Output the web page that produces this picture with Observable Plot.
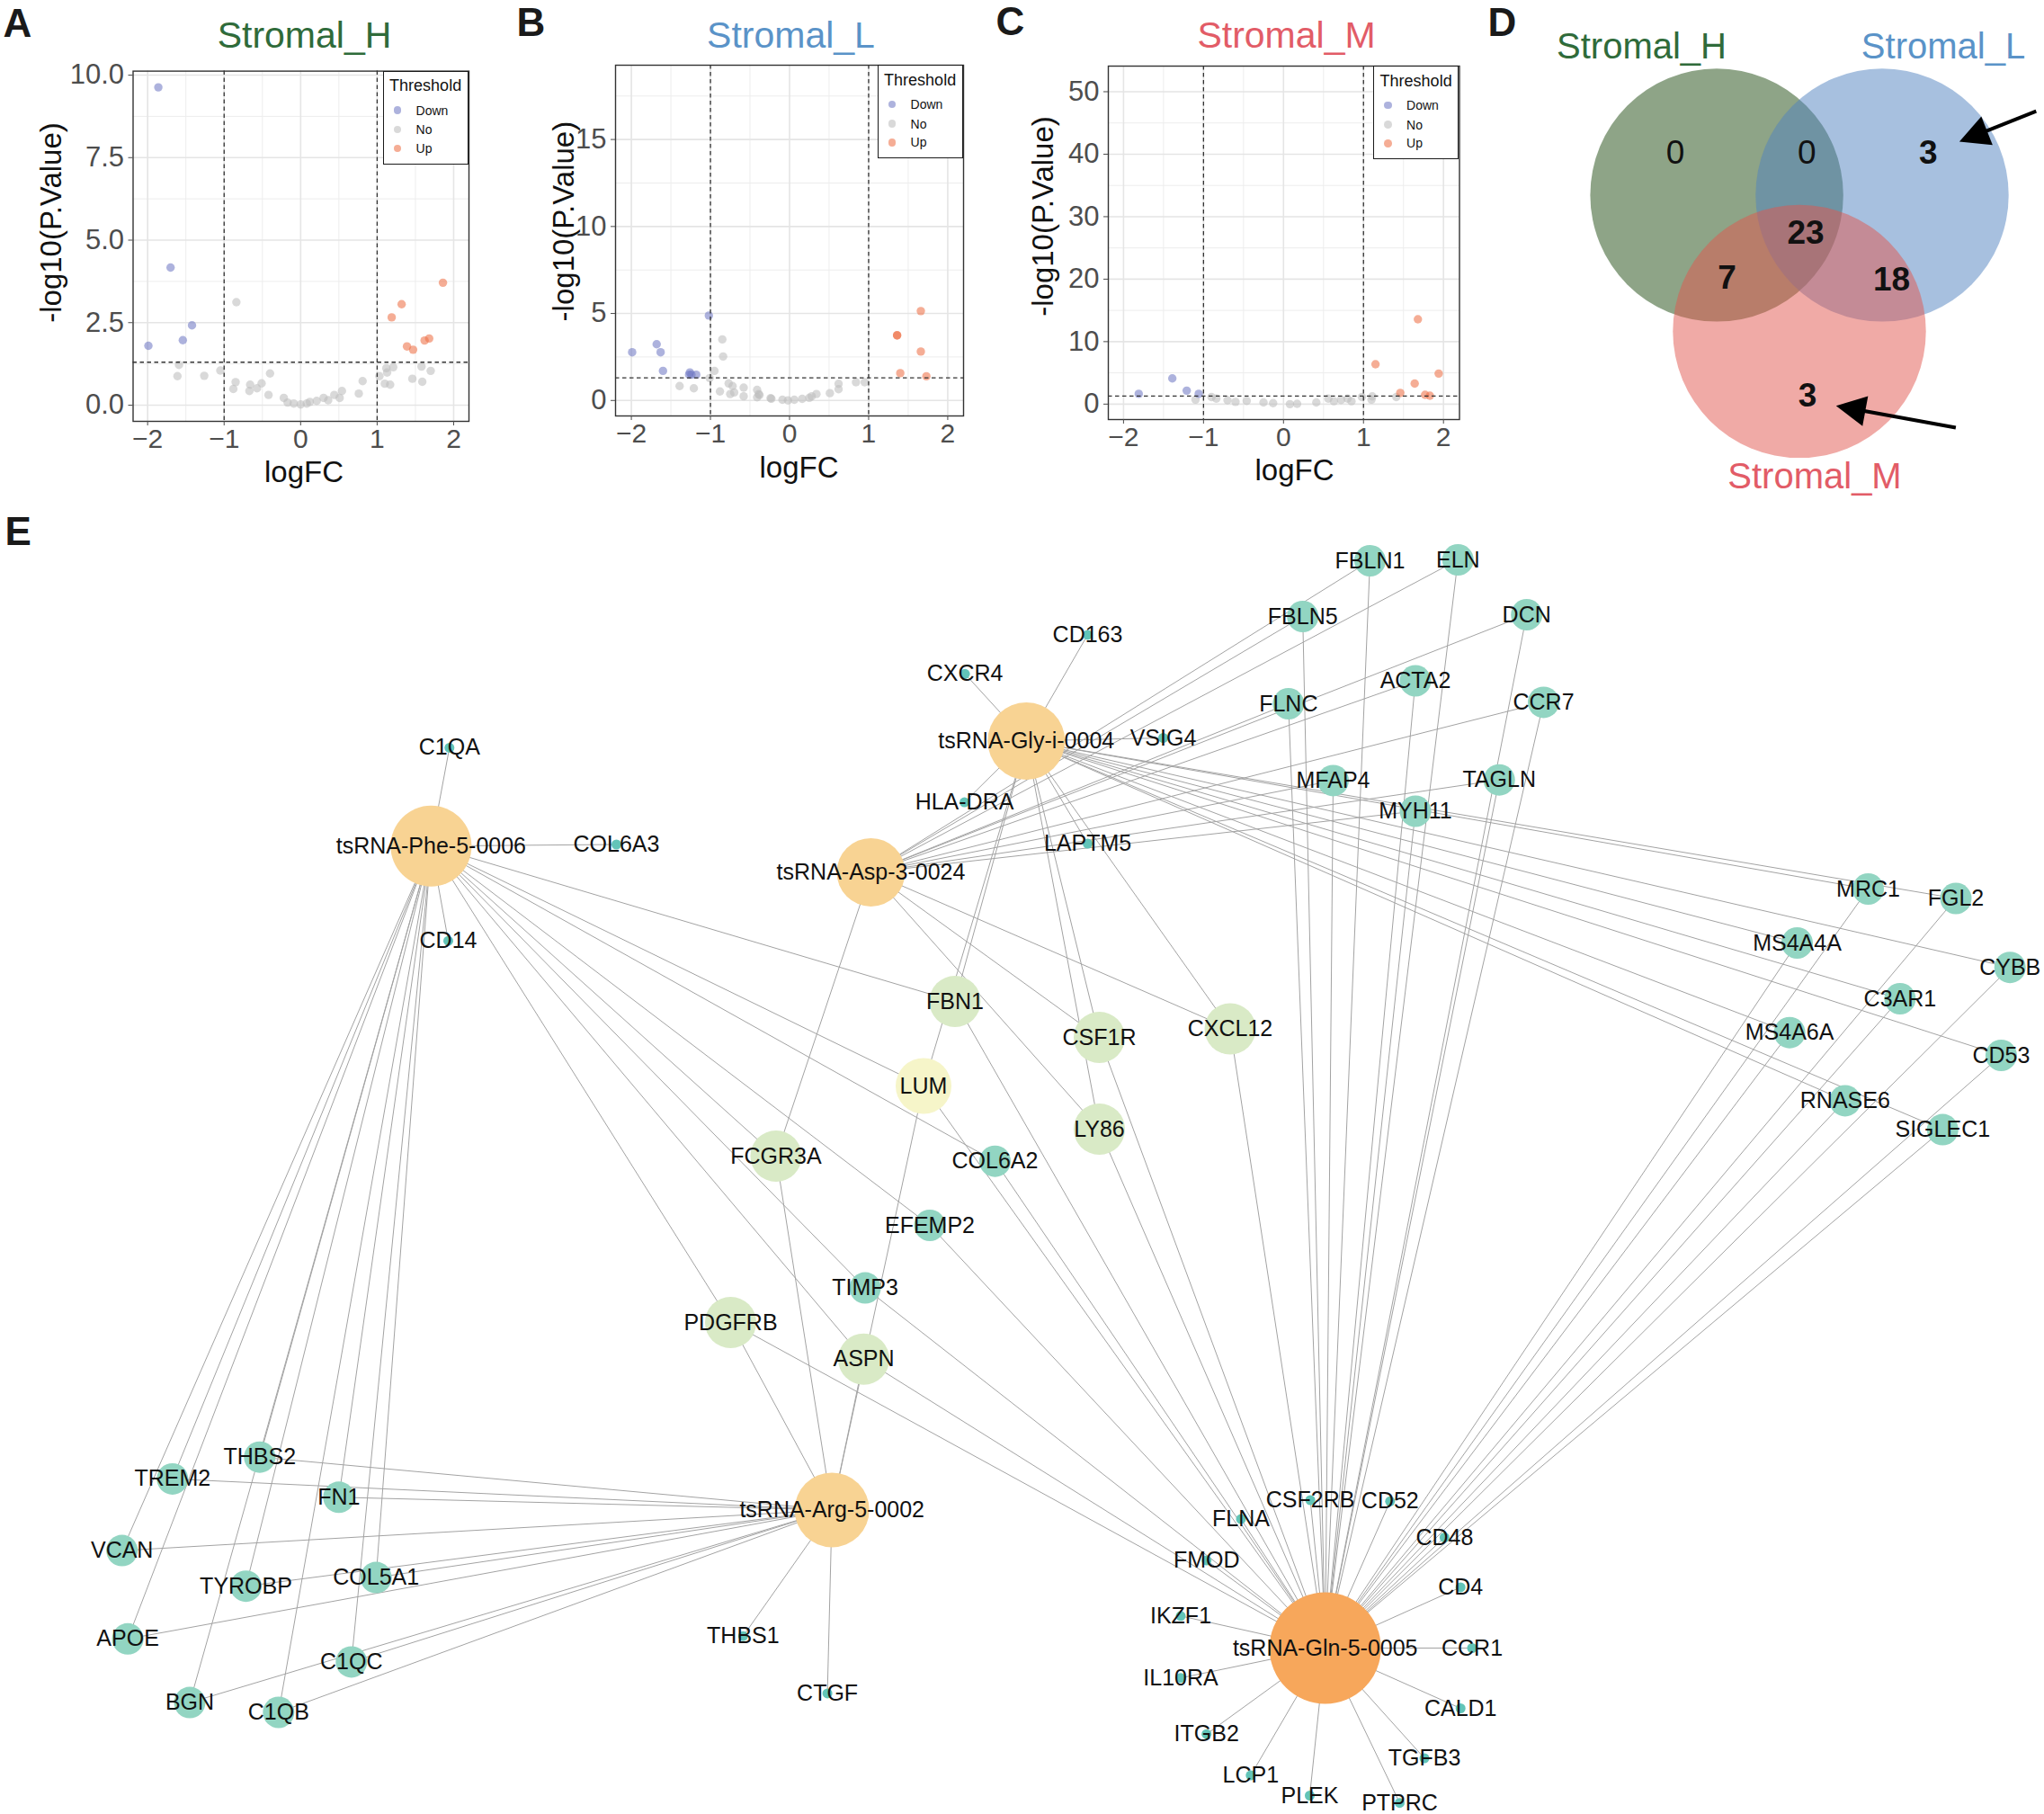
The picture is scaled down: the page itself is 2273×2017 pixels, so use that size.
<!DOCTYPE html>
<html>
<head>
<meta charset="utf-8">
<script src="https://cdn.jsdelivr.net/npm/d3@7"></script>
<script src="https://cdn.jsdelivr.net/npm/@observablehq/plot@0.6"></script>
<style>
html,body{margin:0;padding:0;background:#fff;}
#fig{position:relative;width:2273px;height:2017px;background:#fff;overflow:hidden;font-family:"Liberation Sans",Arial,Helvetica,sans-serif;}
.legend{position:absolute;border:1.5px solid #1a1a1a;background:#fff;box-sizing:border-box;color:#111;font-family:"Liberation Sans",Arial,sans-serif;}
.legend div{position:absolute;white-space:nowrap;}
.legend span{position:absolute;border-radius:50%;}
</style>
</head>
<body>
<div id="fig"></div>
<script>
// ---------------- DATA ----------------
// Panel A: Stromal_H  [logFC, -log10(P.Value)]
const H_down = [[-1.86,9.63],[-1.70,4.17],[-1.42,2.42],[-1.54,1.97],[-1.99,1.80]];
const H_up = [[1.86,3.71],[1.32,3.06],[1.19,2.66],[1.68,2.02],[1.62,1.96],[1.39,1.78],[1.47,1.68]];
const H_no = [[-0.84,3.12],[-1.59,1.22],[-1.61,0.88],[-1.26,0.89],[-1.05,1.05],[-0.85,0.70],[-0.88,0.49],[-0.66,0.62],[-0.67,0.43],[-0.57,0.51],[-0.51,0.66],[-0.40,0.96],[-0.42,0.31],[-0.22,0.22],[-0.17,0.08],[-0.09,0.05],[0.0,0.02],[0.08,0.05],[0.12,0.10],[0.21,0.13],[0.30,0.22],[0.36,0.15],[0.44,0.31],[0.51,0.22],[0.54,0.43],[0.76,0.35],[0.81,0.73],[1.03,0.88],[1.10,0.65],[1.17,0.62],[1.12,1.12],[1.21,1.15],[1.13,0.99],[1.46,0.80],[1.58,1.17],[1.59,0.71],[1.70,1.04]];
// Panel B: Stromal_L
const L_down = [[-1.99,2.77],[-1.68,3.23],[-1.63,2.77],[-1.60,1.70],[-1.26,1.61],[-1.24,1.48],[-1.18,1.48],[-1.27,1.48],[-1.02,4.88]];
const L_up = [[1.66,5.14],[1.36,3.75],[1.36,3.74],[1.66,2.81],[1.40,1.57],[1.73,1.39]];
const L_no = [[-0.85,3.51],[-0.84,2.53],[-0.95,1.70],[-1.01,1.29],[-1.39,0.83],[-1.21,0.70],[-0.88,0.52],[-0.77,0.98],[-0.72,0.83],[-0.75,0.37],[-0.70,0.46],[-0.58,0.74],[-0.58,0.24],[-0.41,0.61],[-0.39,0.37],[-0.41,0.18],[-0.38,0.31],[-0.24,0.13],[-0.23,0.10],[-0.09,0.04],[-0.02,0.0],[0.06,0.04],[0.16,0.09],[0.25,0.15],[0.28,0.24],[0.34,0.37],[0.51,0.42],[0.62,0.96],[0.62,0.65],[0.84,1.05],[0.95,1.05]];
// Panel C: Stromal_M
const M_down = [[-1.81,1.65],[-1.39,4.12],[-1.21,2.16],[-1.06,1.65]];
const M_up = [[1.68,13.58],[1.15,6.38],[1.94,4.89],[1.64,3.29],[1.46,1.80],[1.77,1.49],[1.83,1.34]];
const M_no = [[-1.10,0.72],[-0.90,1.13],[-0.84,0.87],[-0.70,0.62],[-0.60,0.36],[-0.46,0.51],[-0.25,0.26],[-0.13,0.15],[0.08,0.0],[0.17,0.05],[0.41,0.26],[0.56,0.87],[0.63,0.46],[0.72,0.67],[0.80,0.87],[0.85,0.46],[0.98,1.13],[1.11,1.23],[1.10,0.72],[1.41,1.13]];
const thresholdLevels = ["Down","No","Up"];
const xTicks = [-2,-1,0,1,2];

// Panel D: Venn (set name, centre, radius in layout units) and region counts
const vennSets = ["Stromal_H","Stromal_L","Stromal_M"];
const vennCx = [1908.6, 2092.5, 2000.5];
const vennCy = [216.4, 216.4, 367.9];
const vennR = [140.7, 140.7, 140.7];
const vennLabelX = [1825, 2160.5, 2017.5];
const vennLabelY = [51.8, 51.8, 529.5];
const vennCounts = [
  {n:"0", x:1862.5, y:169.6, bold:false},
  {n:"0", x:2008.8, y:169.6, bold:false},
  {n:"3", x:2143.8, y:169.6, bold:true},
  {n:"23", x:2007.6, y:259, bold:true},
  {n:"7", x:1920, y:309, bold:true},
  {n:"18", x:2103, y:310.7, bold:true},
  {n:"3", x:2009.6, y:439.3, bold:true}
];
const vennArrows = [
  {x1:2263.8, y1:123.2, x2:2178.4, y2:157.1},
  {x1:2174.4, y1:475.0, x2:2041.3, y2:450.7}
];

// Panel E: network layout (name, x, y, class: hub / g1..g4 = number of tsRNA partners)
const nodes = [
  ["tsRNA-Phe-5-0006",478.9,940.2,"hub"],["tsRNA-Gly-i-0004",1140.8,823.4,"hub"],
  ["tsRNA-Asp-3-0024",968,969.4,"hub"],["tsRNA-Arg-5-0002",924.7,1678.4,"hub"],
  ["tsRNA-Gln-5-0005",1473.2,1832,"hubMain"],
  ["C1QA",499.3,830.9,"g1"],["COL6A3",685,938.5,"g1"],["CD14",498,1045.7,"g1"],
  ["CD163",1209,705.4,"g1"],["CXCR4",1072.6,748.8,"g1"],["VSIG4",1293,820,"g1"],
  ["HLA-DRA",1072,891.6,"g1"],["LAPTM5",1209,937.5,"g1"],["THBS1",825.9,1818.7,"g1"],
  ["CTGF",919.6,1882.4,"g1"],["CSF2RB",1456.6,1667.5,"g1"],["CD52",1545.3,1668.8,"g1"],
  ["FLNA",1379.5,1688.6,"g1"],["CD48",1605.9,1709,"g1"],["FMOD",1341.2,1734.5,"g1"],
  ["CD4",1623.7,1764.4,"g1"],["IKZF1",1312.5,1796.3,"g1"],["CCR1",1636.5,1832,"g1"],
  ["IL10RA",1312.5,1865.2,"g1"],["CALD1",1623.7,1899,"g1"],["ITGB2",1341.2,1927.7,"g1"],
  ["TGFB3",1583.5,1954.5,"g1"],["LCP1",1390.3,1973.6,"g1"],["PLEK",1456,1996,"g1"],
  ["PTPRC",1556,2004.2,"g1"],
  ["FBLN1",1523,623,"g2"],["ELN",1620.8,622,"g2"],["DCN",1697.2,683,"g2"],
  ["FBLN5",1448.2,685,"g2"],["ACTA2",1573.5,756.5,"g2"],["FLNC",1432.3,782,"g2"],
  ["CCR7",1716,780.4,"g2"],["TAGLN",1666.7,866.7,"g2"],["MFAP4",1482,867.4,"g2"],
  ["MYH11",1573.5,901.5,"g2"],["MRC1",2077,988,"g2"],["FGL2",2174.5,998.5,"g2"],
  ["MS4A4A",1998,1048,"g2"],["CYBB",2234.7,1075.2,"g2"],["C3AR1",2112.4,1110,"g2"],
  ["MS4A6A",1989.6,1147.7,"g2"],["CD53",2224.9,1173,"g2"],["RNASE6",2051.3,1223.4,"g2"],
  ["SIGLEC1",2159.8,1255.6,"g2"],["COL6A2",1106,1290.7,"g2"],["EFEMP2",1033.5,1362,"g2"],
  ["TIMP3",961.6,1431.6,"g2"],["THBS2",288.3,1619.7,"g2"],["TREM2",191.3,1643.9,"g2"],
  ["FN1",376.3,1664.3,"g2"],["VCAN",135.2,1723.6,"g2"],["TYROBP",273,1763.2,"g2"],
  ["COL5A1",417.7,1753.6,"g2"],["APOE",141.6,1821.8,"g2"],["C1QC",390.3,1847.4,"g2"],
  ["BGN",210.5,1892.6,"g2"],["C1QB",309.3,1903.5,"g2"],
  ["FBN1",1061.5,1113,"g3"],["CSF1R",1222,1153,"g3"],["CXCL12",1367.5,1143.5,"g3"],
  ["LY86",1222,1255,"g3"],["FCGR3A",862.5,1285,"g3"],["PDGFRB",812,1470,"g3"],
  ["ASPN",960,1510.7,"g3"],
  ["LUM",1026.5,1207,"g4"]
];
const phe_targets = ["C1QA","COL6A3","CD14","THBS2","TREM2","FN1","VCAN","TYROBP","COL5A1","APOE","C1QC","BGN","C1QB","FBN1","LUM","COL6A2","EFEMP2","TIMP3","ASPN","PDGFRB","FCGR3A"];
const gly_targets = ["CXCR4","CD163","VSIG4","HLA-DRA","LAPTM5","MRC1","FGL2","MS4A4A","CYBB","C3AR1","MS4A6A","CD53","RNASE6","SIGLEC1","FBN1","LUM","CSF1R","LY86","CXCL12"];
const asp_targets = ["FBLN1","ELN","DCN","FBLN5","ACTA2","FLNC","CCR7","TAGLN","MFAP4","MYH11","FCGR3A","CSF1R","CXCL12","LY86"];
const arg_targets = ["THBS2","TREM2","FN1","VCAN","TYROBP","COL5A1","APOE","C1QC","BGN","C1QB","THBS1","CTGF","PDGFRB","FCGR3A","LUM","ASPN"];
const gln_targets = ["CSF2RB","CD52","FLNA","CD48","FMOD","CD4","IKZF1","CCR1","IL10RA","CALD1","ITGB2","TGFB3","LCP1","PLEK","PTPRC",
  "FBLN1","ELN","DCN","FBLN5","ACTA2","FLNC","CCR7","TAGLN","MFAP4","MYH11",
  "MRC1","FGL2","MS4A4A","CYBB","C3AR1","MS4A6A","CD53","RNASE6","SIGLEC1",
  "FBN1","LUM","CSF1R","LY86","CXCL12","COL6A2","EFEMP2","TIMP3","PDGFRB","ASPN"];

// ---------------- STYLE ----------------
const FONT = '"Liberation Sans", Arial, Helvetica, sans-serif';
const ptColor = {Down:"#717bc5", No:"#bdbdbd", Up:"#ed7148"};
const ptOpacity = 0.58;
const titleColors = {Stromal_H:"#2f6b3a", Stromal_L:"#5a93c8", Stromal_M:"#e25c67"};
const vennFill = ["#1e4a10","#4f82c0","#e2554d"];
const vennOpacity = 0.5;
const nodeR = {g1:5.5, g2:17.5, g3:28.5, g4:31, hubMain:62};
const hubR = {"tsRNA-Phe-5-0006":45, "tsRNA-Gly-i-0004":43, "tsRNA-Asp-3-0024":38, "tsRNA-Arg-5-0002":41.5};
const nodeFill = {g1:"#62c4b8", g2:"#92d5c2", g3:"#d9eac6", g4:"#f6f5c9", hub:"#f8d393", hubMain:"#f7a75b"};

const fig = document.getElementById("fig");
function place(el, left, top) {
  el.style.position = "absolute";
  el.style.left = left + "px";
  el.style.top = top + "px";
  fig.appendChild(el);
}

// ---------------- NETWORK + VENN (full canvas) ----------------
const pos = new Map(nodes.map(d => [d[0], {x:d[1], y:d[2]}]));
const hubNames = ["tsRNA-Phe-5-0006","tsRNA-Gly-i-0004","tsRNA-Asp-3-0024","tsRNA-Arg-5-0002","tsRNA-Gln-5-0005"];
const targetLists = [phe_targets, gly_targets, asp_targets, arg_targets, gln_targets];
const edges = [];
hubNames.forEach((h, i) => targetLists[i].forEach(t => edges.push([h, t])));

const nodeObjs = nodes.map(d => ({name:d[0], x:d[1], y:d[2], k:d[3]}));
const venn = vennSets.map((s, i) => ({s, cx:vennCx[i], cy:vennCy[i], r:vennR[i], lx:vennLabelX[i], ly:vennLabelY[i], i}));

// arrow heads derived from arrow data
const heads = [];
vennArrows.forEach((a, i) => {
  const L = Math.hypot(a.x2 - a.x1, a.y2 - a.y1);
  const ux = (a.x2 - a.x1) / L, uy = (a.y2 - a.y1) / L;
  const bx = a.x2 - 33 * ux, by = a.y2 - 33 * uy;
  heads.push({id:i, x:a.x2, y:a.y2});
  heads.push({id:i, x:bx - 17 * uy, y:by + 17 * ux});
  heads.push({id:i, x:bx + 17 * uy, y:by - 17 * ux});
  a.bx = a.x2 - 25 * ux; a.by = a.y2 - 25 * uy;
});

const netMarks = [
  Plot.link(edges, {
    x1: e => pos.get(e[0]).x, y1: e => pos.get(e[0]).y,
    x2: e => pos.get(e[1]).x, y2: e => pos.get(e[1]).y,
    stroke: "#a3a3a3", strokeWidth: 1
  })
];
["g1","g2","g3","g4","hubMain"].forEach(k => {
  netMarks.push(Plot.dot(nodeObjs.filter(d => d.k === k), {x:"x", y:"y", r: nodeR[k], fill: nodeFill[k], stroke: null}));
});
Object.keys(hubR).forEach(h => {
  netMarks.push(Plot.dot(nodeObjs.filter(d => d.name === h), {x:"x", y:"y", r: hubR[h], fill: nodeFill.hub, stroke: null}));
});
netMarks.push(Plot.text(nodeObjs, {x:"x", y:"y", text:"name", fontSize:25, fill:"#111", fontFamily: FONT}));
// Venn
venn.forEach(v => {
  netMarks.push(Plot.dot([v], {x:"cx", y:"cy", r: v.r, fill: vennFill[v.i], fillOpacity: vennOpacity, stroke: null}));
});
netMarks.push(Plot.text(venn, {x:"lx", y:"ly", text:"s", fontSize:40, fill: d => titleColors[d.s], fontFamily: FONT}));
netMarks.push(Plot.text(vennCounts.filter(d => !d.bold), {x:"x", y:"y", text:"n", fontSize:37, fill:"#111", fontFamily: FONT}));
netMarks.push(Plot.text(vennCounts.filter(d => d.bold), {x:"x", y:"y", text:"n", fontSize:37, fontWeight:"bold", fill:"#111", fontFamily: FONT}));
netMarks.push(Plot.link(vennArrows, {x1:"x1", y1:"y1", x2:"bx", y2:"by", stroke:"#000", strokeWidth:4}));
netMarks.push(Plot.line(heads, {x:"x", y:"y", z:"id", fill:"#000", stroke:"none", curve:"linear-closed"}));
// panel letters D and E
netMarks.push(Plot.text([{t:"D", x:1654, y:39}, {t:"E", x:5, y:605}], {x:"x", y:"y", text:"t", textAnchor:"start", lineAnchor:"bottom", fontSize:44, fontWeight:"bold", fill:"#1a1a1a", fontFamily: FONT}));

const net = Plot.plot({
  width: 2273, height: 2017, margin: 0,
  x: {domain:[0, 2273], range:[0, 2273], axis:null},
  y: {domain:[0, 2017], range:[0, 2017], axis:null},
  fill: {type:"identity"},
  style: {background:"transparent", overflow:"visible", fontFamily: FONT},
  marks: netMarks
});
place(net, 0, 0);

// ---------------- VOLCANO PANELS ----------------
function volcano(c) {
  const mL = c.fL - c.left, mR = c.left + c.W - c.fR, mT = c.fT, mB = c.H - c.fB;
  const at = (px, py) => ({frameAnchor:"top-left", dx: px - c.fL, dy: py - c.fT});
  const toObj = arr => arr.map(d => ({x:d[0], y:d[1]}));
  const svg = Plot.plot({
    width: c.W, height: c.H, marginLeft: mL, marginRight: mR, marginTop: mT, marginBottom: mB,
    x: {domain: c.xdom}, y: {domain: c.ydom},
    style: {background:"transparent", overflow:"visible", fontFamily: FONT},
    marks: [
      Plot.gridX([-1.5,-0.5,0.5,1.5], {stroke:"#ededed", strokeOpacity:1, strokeWidth:1}),
      Plot.gridY(c.yminor, {stroke:"#ededed", strokeOpacity:1, strokeWidth:1}),
      Plot.gridX(xTicks, {stroke:"#e5e5e5", strokeOpacity:1, strokeWidth:1.6}),
      Plot.gridY(c.yticks, {stroke:"#e5e5e5", strokeOpacity:1, strokeWidth:1.6}),
      Plot.dot(toObj(c.no), {x:"x", y:"y", r:4.7, fill: ptColor.No, fillOpacity: ptOpacity, stroke:null}),
      Plot.dot(toObj(c.down), {x:"x", y:"y", r:4.7, fill: ptColor.Down, fillOpacity: ptOpacity, stroke:null}),
      Plot.dot(toObj(c.up), {x:"x", y:"y", r:4.7, fill: ptColor.Up, fillOpacity: ptOpacity, stroke:null}),
      Plot.ruleX([-1, 1], {stroke:"#333", strokeWidth:1.3, strokeDasharray:"4.5,3.5"}),
      Plot.ruleY([1.301], {stroke:"#333", strokeWidth:1.3, strokeDasharray:"4.5,3.5"}),
      Plot.frame({stroke:"#333", strokeWidth:1.4}),
      Plot.axisX(xTicks, {tickSize:5, tickPadding:3, fontSize:30, color:"#4d4d4d", label:null}),
      Plot.axisY(c.yticks, {tickSize:5, tickPadding:5, fontSize:31, color:"#4d4d4d", label:null, tickFormat: d3.format(c.yfmt)}),
      Plot.text([c.letter], {...at(c.letterX, c.letterY), text: d => d, textAnchor:"start", lineAnchor:"bottom", fontSize:44, fontWeight:"bold", fill:"#1a1a1a"}),
      Plot.text([c.title], {...at(c.titleX, 52), text: d => d, textAnchor:"middle", lineAnchor:"bottom", fontSize:41, fill: titleColors[c.title]}),
      Plot.text(["logFC"], {...at(c.xlabX, c.xlabY), text: d => d, textAnchor:"middle", lineAnchor:"bottom", fontSize:33, fill:"#111"}),
      Plot.text(["-log10(P.Value)"], {...at(c.ylabX, c.ylabY), text: d => d, rotate:-90, textAnchor:"middle", lineAnchor:"middle", fontSize:33, fill:"#111"})
    ]
  });
  place(svg, c.left, 0);

  // legend box (top-right of panel)
  const lg = document.createElement("div");
  lg.className = "legend";
  const bw = 95.4, bh = 104.3;
  lg.style.left = (c.fR - bw) + "px";
  lg.style.top = c.fT + "px";
  lg.style.width = bw + "px";
  lg.style.height = bh + "px";
  let html = '<div style="left:6.5px;top:6.7px;font-size:18px;line-height:18px;">Threshold</div>';
  const rows = [44.6, 66, 86.8];
  thresholdLevels.forEach((lev, i) => {
    const cy = rows[i] - 1.5;
    html += `<span style="left:${15.5-4.3}px;top:${cy-4.3}px;width:8.6px;height:8.6px;background:${ptColor[lev]};opacity:${ptOpacity};"></span>`;
    html += `<div style="left:36px;top:${cy-7.85}px;font-size:14px;line-height:16px;">${lev}</div>`;
  });
  lg.innerHTML = html;
  fig.appendChild(lg);
}

volcano({left:0, W:560, H:560, fL:147.5, fR:521, fT:78.6, fB:468, xdom:[-2.19,2.2], ydom:[-0.49,10.12],
  yticks:[0,2.5,5,7.5,10], yminor:[1.25,3.75,6.25,8.75], yfmt:".1f",
  down:H_down, no:H_no, up:H_up, title:"Stromal_H", titleX:338, letter:"A", letterX:3, letterY:40,
  ylabX:57, ylabY:247, xlabX:337.5, xlabY:535});
volcano({left:560, W:540, H:560, fL:684, fR:1071, fT:72, fB:462, xdom:[-2.2,2.2], ydom:[-0.89,19.27],
  yticks:[0,5,10,15], yminor:[2.5,7.5,12.5,17.5], yfmt:"d",
  down:L_down, no:L_no, up:L_up, title:"Stromal_L", titleX:879, letter:"B", letterX:574, letterY:39,
  ylabX:627, ylabY:245.6, xlabX:888, xlabY:530});
volcano({left:1100, W:550, H:560, fL:1232, fR:1622.5, fT:73, fB:466, xdom:[-2.19,2.2], ydom:[-2.47,54.1],
  yticks:[0,10,20,30,40,50], yminor:[5,15,25,35,45], yfmt:"d",
  down:M_down, no:M_no, up:M_up, title:"Stromal_M", titleX:1430, letter:"C", letterX:1107, letterY:38,
  ylabX:1160, ylabY:240, xlabX:1439, xlabY:533});
</script>
</body>
</html>
